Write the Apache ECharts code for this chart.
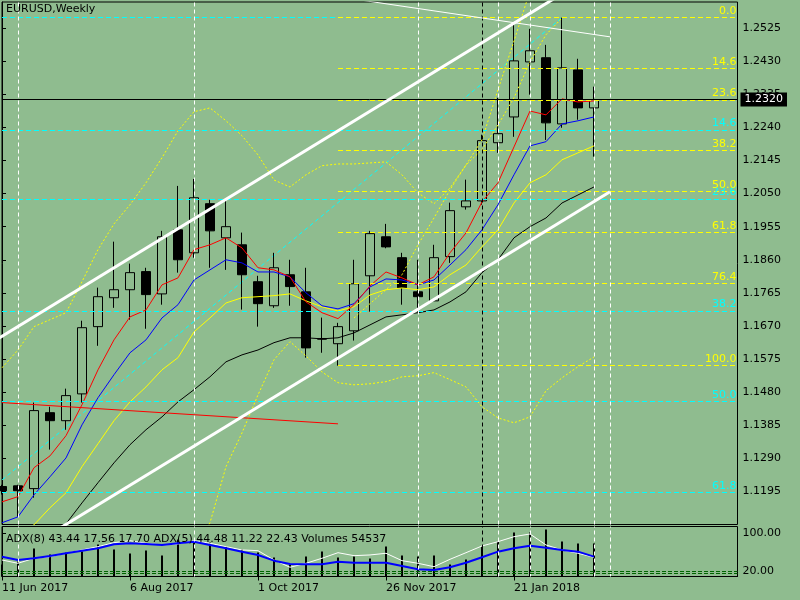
<!DOCTYPE html>
<html lang="en">
<head>
<meta charset="UTF-8">
<title>EURUSD,Weekly</title>
<style>
  *{margin:0;padding:0;}
  body{background:#8fbc8f;}
  #main{width:800px;height:600px;}
</style>
<script src="https://cdn.jsdelivr.net/npm/echarts@6.0.0/dist/echarts.min.js"></script>
</head>
<body>
<div id="main"></div>
<script>
// weekly bars from 11 Jun 2017, one per week: [open, close, low, high]
var candles = [
  [1.1209, 1.1197, 1.1186, 1.1214],
  [1.1211, 1.1197, 1.1122, 1.1214],
  [1.1203, 1.1427, 1.1177, 1.1450],
  [1.1421, 1.1398, 1.1315, 1.1438],
  [1.1398, 1.1470, 1.1372, 1.1490],
  [1.1475, 1.1665, 1.1450, 1.1685],
  [1.1668, 1.1754, 1.1613, 1.1780],
  [1.1751, 1.1774, 1.1722, 1.1912],
  [1.1774, 1.1823, 1.1688, 1.1849],
  [1.1826, 1.1760, 1.1662, 1.1837],
  [1.1762, 1.1926, 1.1731, 1.1943],
  [1.1946, 1.1860, 1.1823, 1.2072],
  [1.1880, 1.2038, 1.1866, 1.2092],
  [1.2021, 1.1943, 1.1837, 1.2032],
  [1.1923, 1.1955, 1.1831, 1.2032],
  [1.1903, 1.1817, 1.1717, 1.1938],
  [1.1797, 1.1734, 1.1668, 1.1814],
  [1.1728, 1.1837, 1.1722, 1.1880],
  [1.1817, 1.1783, 1.1728, 1.1860],
  [1.1768, 1.1607, 1.1579, 1.1837],
  [1.1634, 1.1632, 1.1593, 1.1694],
  [1.1619, 1.1668, 1.1556, 1.1679],
  [1.1656, 1.1791, 1.1628, 1.1860],
  [1.1814, 1.1935, 1.1711, 1.1943],
  [1.1926, 1.1897, 1.1893, 1.1963],
  [1.1866, 1.1780, 1.1731, 1.1880],
  [1.1768, 1.1754, 1.1711, 1.1860],
  [1.1742, 1.1866, 1.1742, 1.1903],
  [1.1869, 1.2001, 1.1851, 1.2024],
  [1.2012, 1.2029, 1.2004, 1.2090],
  [1.2029, 1.2202, 1.2018, 1.2219],
  [1.2196, 1.2222, 1.2167, 1.2325],
  [1.2270, 1.2431, 1.2213, 1.2540],
  [1.2428, 1.2460, 1.2334, 1.2523],
  [1.2440, 1.2253, 1.2204, 1.2477],
  [1.2250, 1.2411, 1.2239, 1.2555],
  [1.2405, 1.2296, 1.2262, 1.2437],
  [1.2296, 1.2320, 1.2156, 1.2357]
];
var lastPrice = 1.2320;

// moving averages
var maRed = [1.1165,1.1180,1.1263,1.1297,1.1355,1.1444,1.1544,1.1630,1.1696,1.1716,1.1788,1.1808,1.1889,1.1903,1.1923,1.1894,1.1837,1.1831,1.1811,1.1739,1.1708,1.1691,1.1731,1.1785,1.1825,1.1808,1.1788,1.1811,1.1880,1.1937,1.2026,1.2081,1.2184,1.2287,1.2276,1.2322,1.2313,1.2316];
var maBlue = [1.1105,1.1122,1.1185,1.1237,1.1291,1.1386,1.1464,1.1530,1.1593,1.1630,1.1693,1.1731,1.1802,1.1831,1.1860,1.1851,1.1825,1.1825,1.1811,1.1765,1.1728,1.1719,1.1734,1.1782,1.1805,1.1802,1.1788,1.1802,1.1845,1.1889,1.1946,1.2018,1.2104,1.2187,1.2199,1.2250,1.2259,1.2270];
var maYellow = [1.1042,1.1071,1.1099,1.1148,1.1191,1.1266,1.1332,1.1398,1.1452,1.1495,1.1544,1.1579,1.1653,1.1693,1.1736,1.1751,1.1754,1.1757,1.1762,1.1742,1.1725,1.1713,1.1725,1.1759,1.1774,1.1779,1.1774,1.1782,1.1817,1.1845,1.1897,1.1946,1.2023,1.2081,1.2104,1.2147,1.2167,1.2187];
var maBlack = [1.0941,1.0984,1.1027,1.1065,1.1102,1.1162,1.1220,1.1277,1.1329,1.1372,1.1409,1.1452,1.1487,1.1524,1.1567,1.1587,1.1601,1.1622,1.1636,1.1636,1.1633,1.1636,1.1650,1.1673,1.1696,1.1702,1.1708,1.1716,1.1739,1.1768,1.1823,1.1860,1.1923,1.1955,1.1980,1.2023,1.2046,1.2069];

// dotted bands (upper from bar 0, lower from bar 12, second upper from bar 22)
var bandUpper = [1.1550,1.1601,1.1668,1.1688,1.1708,1.1797,1.1889,1.1963,1.2018,1.2081,1.2153,1.2230,1.2285,1.2296,1.2259,1.2216,1.2161,1.2089,1.2069,1.2104,1.2130,1.2135,1.2135,1.2138,1.2141,1.2104,1.2052,1.2021,1.2066,1.2132,1.2176,1.2247,1.2325,1.2428,1.2506,1.2554];
var lowerStart = 12;
var bandLower = [1.1020,1.1105,1.1266,1.1363,1.1472,1.1573,1.1625,1.1584,1.1538,1.1507,1.1501,1.1504,1.1510,1.1524,1.1527,1.1536,1.1516,1.1495,1.1438,1.1406,1.1392,1.1409,1.1484,1.1521,1.1553,1.1581];
var band2Start = 22;
var band2 = [1.1693,1.1734,1.1774,1.1817,1.1903,1.1980,1.2061,1.2132,1.2204,1.2348,1.2488,1.2632];

// fibo levels
var fibYellowStart = 21;
var fibYellowLevels = [1.2555, 1.2409, 1.2319, 1.2173, 1.2056, 1.1938, 1.1792, 1.1556];
var fibYellowLabels = ['0.0', '14.6', '23.6', '38.2', '50.0', '61.8', '76.4', '100.0'];
var fibCyanLevels = [1.2555, 1.2233, 1.2035, 1.1713, 1.1453, 1.1192];
var fibCyanLabels = ['0.0', '14.6', '23.6', '38.2', '50.0', '61.8'];

// drawn lines, [bar, price]
var channelUpper = [[-1, 1.1612], [40, 1.2764]];
var channelLower = [[0, 1.0988], [38, 1.2055]];
var thinWhite = [[20, 1.2622], [38, 1.2500]];
var redTrend = [[0, 1.1450], [21, 1.1389]];
var cyanDiag = [[-1, 1.1190], [35, 1.2555]];
var vLinesWhite = [1, 12, 26, 31, 33, 37, 38];
var vLinesBlack = [30];

// lower window
var volumes = [20000,24700,46200,36300,39600,41250,52800,44550,37950,42900,34650,61050,56100,56100,49500,44550,39600,31350,19800,33000,41250,31350,33000,29700,49500,34650,33000,34650,19800,28050,49500,57750,72600,72600,77550,57750,54450,54537];
var adxBlue = [50.4,43.3,47.0,51.8,57.6,63.1,68.2,76.7,78.8,77.3,75.2,78.8,82.2,75.2,68.2,61.0,54.0,41.9,34.9,34.2,34.2,39.7,37.6,37.6,37.6,30.6,23.6,22.1,27.9,37.6,49.1,61.0,68.2,73.7,69.4,64.6,61.0,50.4];
var adxWhite = [43.3,36.3,47.0,50.4,57.6,64.6,71.6,80.1,84.3,78.8,75.2,77.3,84.3,78.8,71.6,64.6,63.1,43.3,27.9,36.3,47.0,58.8,52.5,54.0,57.6,41.9,36.3,29.1,44.8,58.8,73.1,82.2,92.8,98.5,75.2,64.6,57.6,49.1];
var adxLevels = [20, 15];

// axes
var priceTicks = [1.1195,1.1290,1.1385,1.1480,1.1575,1.1670,1.1765,1.1860,1.1955,1.2050,1.2145,1.2240,1.2335,1.2430,1.2525];
var adxTicks = [100, 20, 15];
var dateTicks = [0, 8, 16, 24, 32];
var dateLabels = ['11 Jun 2017', '6 Aug 2017', '1 Oct 2017', '26 Nov 2017', '21 Jan 2018'];

var FONT = 'DejaVu Sans';
var xMin = 0, xMax = 45.97;

function indexed(arr, start) {
  var out = [];
  for (var i = 0; i < arr.length; i++) {
    if (arr[i] != null) out.push([i + (start || 0), arr[i]]);
  }
  return out;
}

function lineSeries(data, color, width, type, z, xi, yi) {
  return {
    type: 'line', data: data, xAxisIndex: xi || 0, yAxisIndex: yi || 0, z: z,
    symbol: 'none', silent: true,
    lineStyle: {color: color, width: width, type: type || 'solid'}
  };
}

// horizontal + vertical objects of the price window
var marks = [];
fibCyanLevels.forEach(function (v, k) {
  marks.push([
    {coord: [xMin, v], lineStyle: {color: '#00ffff', type: [5, 3], width: 1},
     label: {show: k > 0, position: 'insideEndTop', formatter: fibCyanLabels[k], color: '#00ffff',
             fontSize: 11, fontFamily: FONT, distance: 1}},
    {coord: [xMax, v]}
  ]);
});
marks.push([
  {coord: [xMin, lastPrice], lineStyle: {color: '#000', type: 'solid', width: 1},
   label: {show: true, position: 'end', formatter: lastPrice.toFixed(4), color: '#fff', backgroundColor: '#000',
           padding: [2, 4, 1, 4], fontSize: 11, fontFamily: FONT, distance: 3}},
  {coord: [xMax, lastPrice]}
]);
fibYellowLevels.forEach(function (v, k) {
  marks.push([
    {coord: [fibYellowStart, v], lineStyle: {color: '#ffff00', type: [5, 3], width: 1},
     label: {show: true, position: 'insideEndTop', formatter: fibYellowLabels[k], color: '#ffff00',
             fontSize: 11, fontFamily: FONT, distance: 1}},
    {coord: [xMax, v]}
  ]);
});

function vMarks() {
  var out = [];
  vLinesWhite.forEach(function (i) {
    out.push({xAxis: i, lineStyle: {color: '#ffffff', type: [4, 3], width: 1}});
  });
  vLinesBlack.forEach(function (i) {
    out.push({xAxis: i, lineStyle: {color: '#000000', type: [4, 3], width: 1}});
  });
  return out;
}
marks = marks.concat(vMarks());

var adxMarks = vMarks();
adxLevels.forEach(function (v) {
  adxMarks.push({yAxis: v, lineStyle: {color: '#006400', type: [4, 2], width: 1}});
});

var fiboHost = lineSeries(cyanDiag, '#00ffff', 1, [4, 3], 1);
fiboHost.markLine = {silent: true, symbol: 'none', animation: false, label: {show: false}, data: marks};

var adxHost = lineSeries(indexed(adxBlue), '#0000ff', 2, 'solid', 4, 1, 1);
adxHost.markLine = {silent: true, symbol: 'none', animation: false, label: {show: false}, data: adxMarks};

var txt = {color: '#000', fontSize: 11, fontFamily: FONT, fontWeight: 'normal'};

var option = {
  backgroundColor: '#8fbc8f',
  animation: false,
  textStyle: {fontFamily: FONT},
  title: [
    {text: 'EURUSD,Weekly', left: 6, top: 4, padding: 0, textStyle: txt},
    {text: 'ADX(8) 43.44 17.56 17.70 ADX(5) 44.48 11.22 22.43 Volumes 54537', left: 6, top: 534, padding: 0, textStyle: txt}
  ],
  grid: [
    {left: 2, right: 62.5, top: 2, height: 522.5, show: true, borderColor: '#000', borderWidth: 1,
     backgroundColor: 'transparent', containLabel: false, outerBoundsMode: 'none'},
    {left: 2, right: 62.5, top: 526.5, height: 50, show: true, borderColor: '#000', borderWidth: 1,
     backgroundColor: 'transparent', containLabel: false, outerBoundsMode: 'none'}
  ],
  xAxis: [
    {type: 'value', gridIndex: 0, min: xMin, max: xMax, show: false, splitLine: {show: false}},
    {type: 'value', gridIndex: 1, min: xMin, max: xMax,
     axisLine: {show: true, lineStyle: {color: '#000'}},
     axisTick: {show: true, length: 4, inside: false, customValues: dateTicks, lineStyle: {color: '#000'}},
     axisLabel: {show: true, customValues: dateTicks, align: 'left', margin: 6, color: '#000', fontSize: 11, fontFamily: FONT,
                 hideOverlap: false,
                 formatter: function (v) { return dateLabels[dateTicks.indexOf(Math.round(v))] || ''; }},
     splitLine: {show: false}}
  ],
  yAxis: [
    {type: 'value', gridIndex: 0, position: 'right', min: 1.1100, max: 1.2600,
     axisLine: {show: true, lineStyle: {color: '#000'}},
     axisTick: {show: true, length: 4, inside: false, customValues: priceTicks, lineStyle: {color: '#000'}},
     axisLabel: {show: true, customValues: priceTicks, margin: 5, color: '#000', fontSize: 11, fontFamily: FONT,
                 hideOverlap: false,
                 formatter: function (v) { return v.toFixed(4); }},
     splitLine: {show: false}},
    {type: 'value', gridIndex: 1, position: 'right', min: 8.3, max: 114.4,
     axisLine: {show: true, lineStyle: {color: '#000'}},
     axisTick: {show: true, length: 4, inside: false, customValues: adxTicks, lineStyle: {color: '#000'}},
     axisLabel: {show: true, customValues: adxTicks, margin: 5, color: '#000', fontSize: 11, fontFamily: FONT,
                 hideOverlap: false,
                 formatter: function (v) { return v.toFixed(2); }},
     splitLine: {show: false}},
    {type: 'value', gridIndex: 1, min: 0, max: 82500, show: false, splitLine: {show: false}}
  ],
  series: [
    fiboHost,
    {
      type: 'candlestick', xAxisIndex: 0, yAxisIndex: 0, z: 3, barWidth: 10, silent: true,
      data: candles.map(function (c, i) { return [i, c[0], c[1], c[2], c[3]]; }),
      encode: {x: 0, y: [1, 2, 3, 4]},
      itemStyle: {color: 'transparent', color0: '#000', borderColor: '#000', borderColor0: '#000',
                  borderColorDoji: '#000', borderWidth: 1}
    },
    lineSeries(indexed(bandUpper), '#ffff00', 1, [2, 2], 4),
    lineSeries(indexed(bandLower, lowerStart), '#ffff00', 1, [2, 2], 4),
    lineSeries(indexed(band2, band2Start), '#ffff00', 1, [2, 2], 4),
    lineSeries(indexed(maBlack), '#000000', 1, 'solid', 4),
    lineSeries(indexed(maYellow), '#ffff00', 1, 'solid', 4),
    lineSeries(indexed(maBlue), '#0000ff', 1, 'solid', 4),
    lineSeries(indexed(maRed), '#ff0000', 1, 'solid', 4),
    lineSeries(redTrend, '#ff0000', 1, 'solid', 5),
    lineSeries(thinWhite, '#ffffff', 1, 'solid', 5),
    lineSeries(channelUpper, '#ffffff', 3, 'solid', 5),
    lineSeries(channelLower, '#ffffff', 3, 'solid', 5),
    {
      type: 'bar', xAxisIndex: 1, yAxisIndex: 2, z: 2, barWidth: 2, silent: true,
      data: indexed(volumes), itemStyle: {color: '#000'}
    },
    lineSeries(indexed(adxWhite), '#ffffff', 1, 'solid', 4, 1, 1),
    adxHost
  ]
};

var chart = echarts.init(document.getElementById('main'));
chart.setOption(option);
</script>
</body>
</html>
